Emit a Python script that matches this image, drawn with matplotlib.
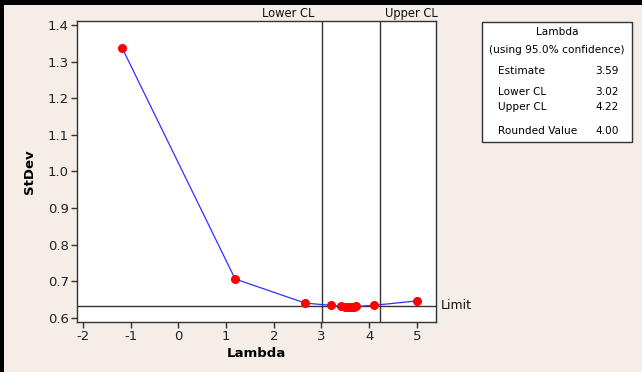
import matplotlib
matplotlib.use("Agg")
import matplotlib.pyplot as plt
from matplotlib.patches import Rectangle

# Box-Cox search: lambda values and the pooled StDev at each
lambdas = [-1.18, 1.19, 2.66, 3.20, 3.42, 3.50, 3.55, 3.59, 3.63, 3.68, 3.73, 4.10, 5.00]
stdevs = [1.338, 0.706, 0.640, 0.634, 0.631, 0.630, 0.630, 0.630, 0.630, 0.630, 0.631, 0.634, 0.646]

estimate = 3.59
lower_cl = 3.02
upper_cl = 4.22
rounded = 4.00
limit = 0.6335

x_ticks = [-2, -1, 0, 1, 2, 3, 4, 5]
y_ticks = [0.6, 0.7, 0.8, 0.9, 1.0, 1.1, 1.2, 1.3, 1.4]

bg = "#F5EDE7"
plt.rcParams["font.family"] = ["DejaVu Sans"]

fig = plt.figure(figsize=(6.42, 3.72), dpi=100, facecolor=bg)
ax = fig.add_axes([0.120, 0.135, 0.559, 0.808])
ax.set_facecolor("white")

ax.plot(lambdas, stdevs, color="#3030FF", lw=0.9, zorder=2)
ax.plot(lambdas, stdevs, "o", color="red", ms=5.5, mec="red", zorder=3)

ax.axhline(limit, color="#333333", lw=1.0, zorder=1)
ax.axvline(lower_cl, color="#333333", lw=1.0, zorder=1)
ax.axvline(upper_cl, color="#333333", lw=1.0, zorder=1)

ax.set_xlim(-2.125, 5.4)
ax.set_ylim(0.589, 1.411)
ax.set_xticks(x_ticks)
ax.set_yticks(y_ticks)
ax.set_xticklabels([str(t) for t in x_ticks])
ax.set_yticklabels([f"{t:.1f}" for t in y_ticks])
ax.tick_params(direction="out", length=4, width=1, color="#333333",
               labelsize=9.5, labelcolor="#222222", pad=2)
for s in ax.spines.values():
    s.set_color("#333333")
    s.set_linewidth(1.0)

ax.set_xlabel("Lambda", fontsize=9.5, fontweight="bold", labelpad=3)
ax.set_ylabel("StDev", fontsize=9.5, fontweight="bold", labelpad=8)

# confidence-limit captions above the axes, and the limit label at right
ax.text(lower_cl - 0.16, 1.024, "Lower CL", transform=ax.get_xaxis_transform(),
        ha="right", va="center", fontsize=8.3, color="#111111")
ax.text(upper_cl + 0.12, 1.024, "Upper CL", transform=ax.get_xaxis_transform(),
        ha="left", va="center", fontsize=8.3, color="#111111")
ax.text(1.013, limit, "Limit", transform=ax.get_yaxis_transform(),
        ha="left", va="center", fontsize=9, color="#111111")

# summary box
bx0, bx1 = 482 / 642, 632 / 642
by0, by1 = 1 - 142 / 372, 1 - 22 / 372
fig.add_artist(Rectangle((bx0, by0), bx1 - bx0, by1 - by0, transform=fig.transFigure,
                         facecolor="white", edgecolor="#333333", lw=1.0))
fs = 7.6
cx = (bx0 + bx1) / 2
lx = 498 / 642
rx = 619 / 642
fig.text(cx, 1 - 32 / 372, "Lambda", ha="center", va="center", fontsize=fs)
fig.text(cx, 1 - 50 / 372, "(using 95.0% confidence)", ha="center", va="center", fontsize=fs)
rows = [("Estimate", estimate, 71), ("Lower CL", lower_cl, 92),
        ("Upper CL", upper_cl, 107), ("Rounded Value", rounded, 131)]
for label, val, ypx in rows:
    fig.text(lx, 1 - ypx / 372, label, ha="left", va="center", fontsize=fs)
    fig.text(rx, 1 - ypx / 372, f"{val:.2f}", ha="right", va="center", fontsize=fs)

# heavy frame along the top and left edges
fig.add_artist(Rectangle((0, 1 - 5 / 372), 1, 5 / 372, transform=fig.transFigure,
                         facecolor="black", edgecolor="none"))
fig.add_artist(Rectangle((0, 0), 4 / 642, 1, transform=fig.transFigure,
                         facecolor="black", edgecolor="none"))

fig.savefig("out.png", dpi=100, facecolor=bg)
